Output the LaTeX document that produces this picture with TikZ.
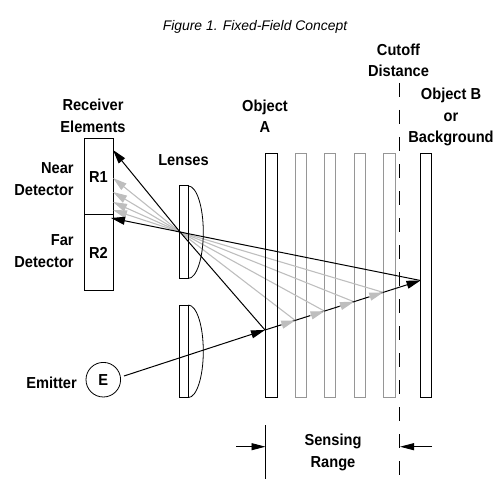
\documentclass[tikz,border=0pt]{standalone}
\usepackage{fontspec}
\setmainfont{Liberation Sans}
\newfontfamily\tallfont[FakeStretch=0.92]{Liberation Sans}
\usetikzlibrary{arrows.meta,calc}
\definecolor{raygray}{RGB}{190,190,190}
\definecolor{platgray}{RGB}{150,150,150}
\tikzset{
  x=1pt,y=-1pt,
  lbl/.style={font=\tallfont\fontsize{15.9}{21.5}\selectfont\bfseries,align=center,inner sep=0pt,text=black},
  lblr/.style={lbl,align=right},
  box/.style={draw=black,line width=1pt,inner sep=0pt,outer sep=0pt,font=\tallfont\fontsize{15.9}{16}\selectfont\bfseries},
  plate/.style={box,minimum height=244pt},
  ghost/.style={draw=platgray,line width=1pt,inner sep=0pt,outer sep=0pt,minimum height=244pt},
  lensbody/.style={box,minimum width=9pt,minimum height=92.5pt},
  curve/.style={draw=black,line width=0.8pt},
  bray/.style={draw=black,line width=1pt},
  barrow/.style={bray,-{Triangle[length=14pt,width=8pt]}},
  gray line/.style={draw=raygray,line width=1.1pt},
  garrow/.style={gray line,-{Triangle[length=14pt,width=8pt,color=raygray]}},
  dim/.style={draw=black,line width=0.9pt,-{Triangle[length=14pt,width=7pt]}},
  vline/.style={draw=black,line width=1pt}
}
\begin{document}
\begin{tikzpicture}
\useasboundingbox (0,0) rectangle (503,484);
% labels
\node[font=\fontsize{13.9}{16}\selectfont\itshape,inner sep=0pt] (title) at (255,27) {Figure 1. Fixed-Field Concept};
\node[lbl] (lrec) at (93,116) {Receiver\\Elements};
\node[lblr] (lnear) at (44,179) {Near\\Detector};
\node[lblr] (lfar) at (44,251) {Far\\Detector};
\node[lbl] (llens) at (183.5,160) {Lenses};
\node[lbl] (lobja) at (265,116) {Object\\A};
\node[lbl] (lcut) at (398.5,60.5) {Cutoff\\Distance};
\node[lbl] (lobjb) at (451,117) {Object B\\or\\Background};
\node[lbl] (lemit) at (51.5,383) {Emitter};
\node[lbl] (lsens) at (333,452.5) {Sensing\\Range};
% ghost plates
\node[ghost,minimum width=11pt] (g1) at (300.8,275) {};
\node[ghost,minimum width=11.5pt] (g2) at (330.2,275) {};
\node[ghost,minimum width=11pt] (g3) at (359.8,275) {};
\node[ghost,minimum width=12pt] (g4) at (389.5,275) {};
% key points
\coordinate (lenspt) at (180,232);
\coordinate (hitA) at (265,330);
\coordinate (hitB) at (420.5,280.5);
\coordinate (emout) at (124,376);
\coordinate (r1tip) at (113,150);
\coordinate (r2tip) at (111,218);
\coordinate (t1) at (113,178);
\coordinate (t2) at (113,192);
\coordinate (t3) at (113,202);
\coordinate (t4) at (113,210);
\coordinate (g1p) at (295.3,320.5);
\coordinate (g2p) at (324.6,311.2);
\coordinate (g3p) at (354,301.8);
\coordinate (g4p) at (383.3,292.4);
% receiver
\node[box,minimum width=29pt,minimum height=75.5pt] (r1) at (98.5,176.7) {R1};
\node[box,minimum width=29pt,minimum height=76.5pt] (r2) at (98.5,252.7) {R2};
% gray rays
\draw[garrow] (lenspt) -- (t1);
\draw[garrow] (lenspt) -- (t2);
\draw[garrow] (lenspt) -- (t3);
\draw[garrow] (lenspt) -- (t4);
\draw[gray line] (lenspt) -- (g1p);
\draw[gray line] (lenspt) -- (g2p);
\draw[gray line] (lenspt) -- (g3p);
\draw[gray line] (lenspt) -- (g4p);
% lenses
\node[lensbody] (lens1) at (183.8,232.2) {};
\node[lensbody] (lens2) at (183.8,351.3) {};
\draw[curve] (lens1.north east) .. controls (196.6,186) and (203.3,206.6) .. (203.3,232.2) .. controls (203.3,257.8) and (196.6,278.4) .. (lens1.south east);
\draw[curve] (lens2.north east) .. controls (196.6,305) and (203.3,325.7) .. (203.3,351.3) .. controls (203.3,376.9) and (196.6,397.6) .. (lens2.south east);
% emitter
\node[draw=black,line width=0.8pt,circle,minimum size=34.6pt,inner sep=0pt,font=\tallfont\fontsize{15.9}{16}\selectfont\bfseries] (em) at (103.3,379.7) {E};
% objects
\node[plate,minimum width=11.5pt] (obja) at (271.5,275) {};
\node[plate,minimum width=11pt] (objb) at (426.2,275) {};
% cutoff
\draw[vline,dash pattern=on 14pt off 13pt] (399.4,83) coordinate (cuttop) -- (399.4,479) coordinate (cutbot);
% black rays
\draw[barrow] (emout) -- (hitA);
\draw[barrow] (hitA) -- (hitB);
\draw[barrow] (hitA) -- (lenspt) -- (r1tip);
\draw[barrow] (hitB) -- (lenspt) -- (r2tip);
% gray heads on outgoing ray
\foreach \p in {g1p,g2p,g3p,g4p}
  \draw[garrow] ($(\p)!15pt!(hitA)$) -- (\p);
% sensing range
\coordinate (rangeL) at (265.5,425);
\coordinate (rangeLb) at (265.5,478.5);
\coordinate (dimLs) at (236,446.7);
\coordinate (dimLe) at (265.5,446.7);
\coordinate (dimRs) at (432,446.7);
\coordinate (dimRe) at (400,446.7);
\draw[vline] (rangeL) -- (rangeLb);
\draw[dim] (dimLs) -- (dimLe);
\draw[dim] (dimRs) -- (dimRe);
\end{tikzpicture}
\end{document}
